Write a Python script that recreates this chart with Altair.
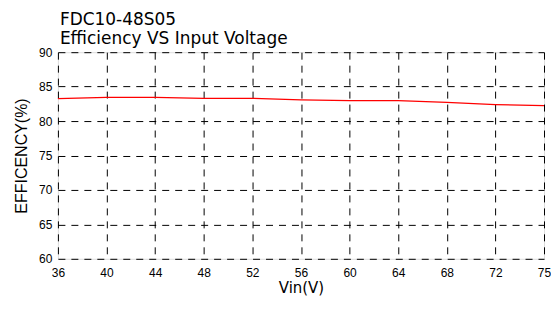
import altair as alt
import pandas as pd

vin = ["36", "40", "44", "48", "52", "56", "60", "64", "68", "72", "75"]
efficiency = [83.26, 83.45, 83.45, 83.3, 83.3, 83.07, 82.97, 82.97, 82.7, 82.4, 82.25]
y_ticks = [60, 65, 70, 75, 80, 85, 90]

df = pd.DataFrame({"vin": vin, "eff": efficiency})

font = "Liberation Sans"
wide = "DejaVu Sans"

chart = alt.Chart(df).mark_line(color="#ff0000", strokeWidth=1.2).encode(
    x=alt.X("vin:O", sort=None,
            scale=alt.Scale(type="point", padding=0),
            axis=alt.Axis(title="Vin(V)", labelAngle=0, ticks=False,
                          labelPadding=9, titlePadding=2,
                          labelFont=font, labelFontSize=12, labelColor="#000",
                          titleFont=wide, titleFontSize=15, titleFontWeight="normal",
                          titleColor="#000",
                          domain=False,
                          grid=True, gridColor="#000", gridDash=[7, 6],
                          gridOpacity=1, gridWidth=1)),
    y=alt.Y("eff:Q",
            scale=alt.Scale(domain=[60, 90], nice=False, zero=False),
            axis=alt.Axis(title="EFFICENCY(%)", values=y_ticks, ticks=False,
                          labelPadding=6, titlePadding=9,
                          labelFont=font, labelFontSize=12, labelColor="#000",
                          titleFont=font, titleFontSize=16, titleFontWeight="normal",
                          titleColor="#000",
                          domain=False,
                          grid=True, gridColor="#000", gridDash=[7, 6],
                          gridOpacity=1, gridWidth=1)),
).properties(
    width=487,
    height=207,
    padding={"top": 3, "left": 5, "right": 0, "bottom": 0},
    title=alt.TitleParams(
        text=["FDC10-48S05", "Efficiency VS Input Voltage"],
        anchor="start", font=wide, fontSize=17, fontWeight="normal",
        color="#000", lineHeight=19, offset=-2, frame="group", dx=2,
    ),
).configure_view(
    stroke="#000", strokeWidth=1.5,
).configure(background="white")

chart.save("out.html", embed_options={"renderer": "svg", "actions": False})
